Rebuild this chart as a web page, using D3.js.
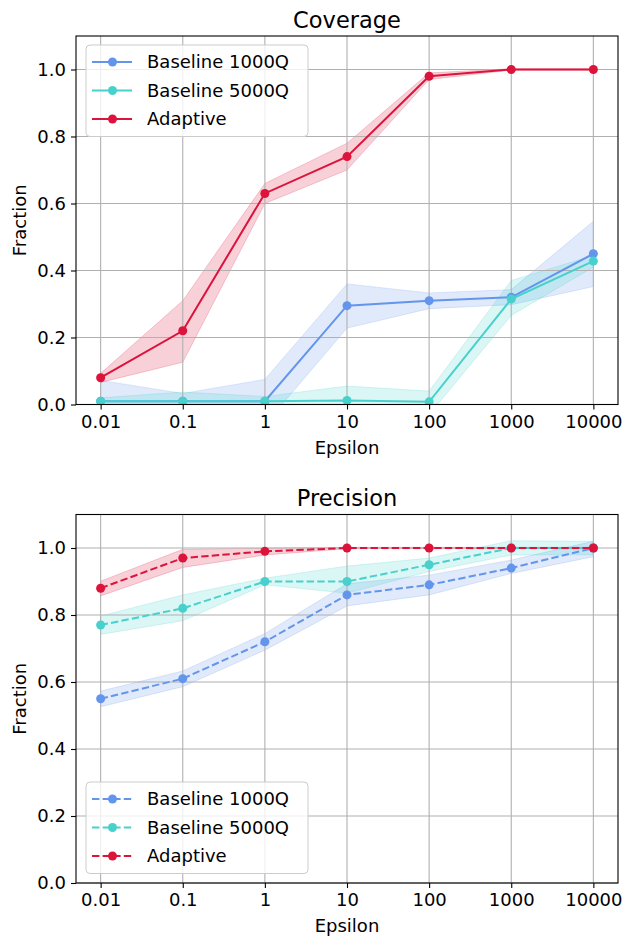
<!DOCTYPE html>
<html>
<head>
<meta charset="utf-8">
<script src="https://cdn.jsdelivr.net/npm/d3@7"></script>
<style>
  body { margin: 0; background: #fff; }
  svg { display: block; font-family: 'DejaVu Sans', sans-serif; }
</style>
</head>
<body>
<svg id="chart" width="633" height="946"></svg>
<script>
// --- data ---
const epsilons = [0.01, 0.1, 1, 10, 100, 1000, 10000];
const tickLabels = ['0.01', '0.1', '1', '10', '100', '1000', '10000'];
const yTicks = [0.0, 0.2, 0.4, 0.6, 0.8, 1.0];
const seriesNames = ['Baseline 1000Q', 'Baseline 5000Q', 'Adaptive'];
const seriesColors = ['#6495ED', '#48D1CC', '#DC143C'];

// coverage
const covBase1000 = [0.01, 0.01, 0.01, 0.295, 0.31, 0.32, 0.45];
const covBase1000Lo = [-0.05, -0.01, -0.06, 0.228, 0.286, 0.298, 0.352];
const covBase1000Hi = [0.072, 0.033, 0.075, 0.36, 0.333, 0.343, 0.547];
const covBase5000 = [0.01, 0.01, 0.01, 0.012, 0.008, 0.315, 0.428];
const covBase5000Lo = [0.0, -0.017, -0.004, -0.031, -0.03, 0.266, 0.41];
const covBase5000Hi = [0.02, 0.037, 0.024, 0.055, 0.04, 0.37, 0.445];
const covAdaptive = [0.08, 0.22, 0.63, 0.74, 0.98, 1.0, 1.0];
const covAdaptiveLo = [0.066, 0.126, 0.60, 0.70, 0.97, 0.998, 0.998];
const covAdaptiveHi = [0.093, 0.31, 0.66, 0.78, 0.99, 1.002, 1.002];

// precision
const precBase1000 = [0.55, 0.61, 0.72, 0.86, 0.89, 0.94, 1.0];
const precBase1000Lo = [0.526, 0.586, 0.695, 0.827, 0.86, 0.924, 0.974];
const precBase1000Hi = [0.573, 0.633, 0.745, 0.893, 0.919, 0.964, 1.02];
const precBase5000 = [0.77, 0.82, 0.90, 0.90, 0.95, 1.0, 1.0];
const precBase5000Lo = [0.742, 0.783, 0.89, 0.865, 0.93, 0.979, 0.98];
const precBase5000Hi = [0.797, 0.86, 0.91, 0.946, 0.97, 1.022, 1.02];
const precAdaptive = [0.88, 0.97, 0.99, 1.0, 1.0, 1.0, 1.0];
const precAdaptiveLo = [0.857, 0.942, 0.979, 0.998, 0.998, 0.998, 0.998];
const precAdaptiveHi = [0.901, 0.996, 1.0, 1.002, 1.002, 1.002, 1.002];

const panels = [
  { title: 'Coverage', top: 36, dash: null, legendY: 45,
    mean: [covBase1000, covBase5000, covAdaptive],
    lo: [covBase1000Lo, covBase5000Lo, covAdaptiveLo],
    hi: [covBase1000Hi, covBase5000Hi, covAdaptiveHi] },
  { title: 'Precision', top: 514.5, dash: '7.4,3.2', legendY: 782,
    mean: [precBase1000, precBase5000, precAdaptive],
    lo: [precBase1000Lo, precBase5000Lo, precAdaptiveLo],
    hi: [precBase1000Hi, precBase5000Hi, precAdaptiveHi] }
];

const svg = d3.select('#chart');
const left = 76, right = 618, plotH = 368.5;

// log x with matplotlib-like 5% margins (0.3 decade each side)
const x = d3.scaleLog().domain([Math.pow(10, -2.3), Math.pow(10, 4.3)]).range([left, right]);

panels.forEach((p, pi) => {
  const bottom = p.top + plotH;
  const y = d3.scaleLinear().domain([0, 1.1]).range([bottom, p.top]);
  const g = svg.append('g');

  const clipId = 'clip-' + pi;
  g.append('clipPath').attr('id', clipId)
    .append('rect').attr('x', left).attr('y', p.top)
    .attr('width', right - left).attr('height', plotH);

  // bands
  const area = d3.area()
    .x((d, i) => x(epsilons[i]))
    .y0(d => y(d[0])).y1(d => y(d[1]));
  p.mean.forEach((m, si) => {
    const pts = p.lo[si].map((v, i) => [v, p.hi[si][i]]);
    g.append('path').attr('clip-path', `url(#${clipId})`)
      .attr('d', area(pts))
      .attr('fill', seriesColors[si]).attr('fill-opacity', 0.2)
      .attr('stroke', seriesColors[si]).attr('stroke-opacity', 0.2).attr('stroke-width', 1);
  });

  // grid
  g.append('g').selectAll('line').data(epsilons).join('line')
    .attr('x1', d => x(d)).attr('x2', d => x(d))
    .attr('y1', p.top).attr('y2', bottom)
    .attr('stroke', '#b0b0b0').attr('stroke-width', 1.1);
  g.append('g').selectAll('line').data(yTicks).join('line')
    .attr('x1', left).attr('x2', right)
    .attr('y1', d => y(d)).attr('y2', d => y(d))
    .attr('stroke', '#b0b0b0').attr('stroke-width', 1.1);

  // lines + markers
  const line = d3.line().x((d, i) => x(epsilons[i])).y(d => y(d));
  p.mean.forEach((m, si) => {
    const sg = g.append('g').attr('clip-path', `url(#${clipId})`);
    sg.append('path').attr('d', line(m))
      .attr('fill', 'none').attr('stroke', seriesColors[si]).attr('stroke-width', 2)
      .attr('stroke-dasharray', p.dash);
    sg.selectAll('circle').data(m).join('circle')
      .attr('cx', (d, i) => x(epsilons[i])).attr('cy', d => y(d)).attr('r', 4.5)
      .attr('fill', seriesColors[si]);
  });

  // frame
  g.append('rect').attr('x', left).attr('y', p.top)
    .attr('width', right - left).attr('height', plotH)
    .attr('fill', 'none').attr('stroke', '#000').attr('stroke-width', 1.1);

  // axes
  const xAxis = d3.axisBottom(x).tickValues(epsilons)
    .tickFormat((d, i) => tickLabels[i]).tickSize(5).tickPadding(4);
  const xg = g.append('g').attr('transform', `translate(0,${bottom})`).call(xAxis);
  const yAxis = d3.axisLeft(y).tickValues(yTicks)
    .tickFormat(d3.format('.1f')).tickSize(5).tickPadding(5);
  const yg = g.append('g').attr('transform', `translate(${left},0)`).call(yAxis);
  [xg, yg].forEach(a => {
    a.select('.domain').remove();
    a.selectAll('.tick line').attr('stroke', '#000').attr('stroke-width', 1.1);
    a.selectAll('.tick text').attr('font-size', 18).attr('fill', '#000')
      .style('font-family', "'DejaVu Sans', sans-serif");
  });
  xg.selectAll('.tick text').attr('dy', '0.78em');

  // labels
  g.append('text').attr('x', (left + right) / 2).attr('y', p.top - 8.5)
    .attr('text-anchor', 'middle').attr('font-size', 22.5).text(p.title);
  g.append('text').attr('x', (left + right) / 2).attr('y', bottom + 49)
    .attr('text-anchor', 'middle').attr('font-size', 18).text('Epsilon');
  g.append('text')
    .attr('transform', `translate(26,${(p.top + bottom) / 2}) rotate(-90)`)
    .attr('text-anchor', 'middle').attr('font-size', 18).text('Fraction');

  // legend
  const lg = g.append('g').attr('transform', `translate(86,${p.legendY})`);
  lg.append('rect').attr('width', 222).attr('height', 91.5).attr('rx', 4)
    .attr('fill', '#fff').attr('fill-opacity', 0.8)
    .attr('stroke', '#cccccc').attr('stroke-width', 1);
  seriesNames.forEach((name, si) => {
    const cy = 17 + si * 28.5;
    lg.append('line').attr('x1', 6).attr('x2', 46).attr('y1', cy).attr('y2', cy)
      .attr('stroke', seriesColors[si]).attr('stroke-width', 2)
      .attr('stroke-dasharray', p.dash);
    lg.append('circle').attr('cx', 26.5).attr('cy', cy).attr('r', 4.5)
      .attr('fill', seriesColors[si]);
    lg.append('text').attr('x', 61).attr('y', cy).attr('dy', '0.35em')
      .attr('font-size', 18).text(name);
  });
});
</script>
</body>
</html>
